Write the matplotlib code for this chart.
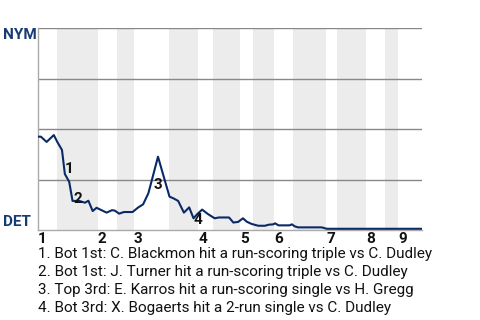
import matplotlib.pyplot as plt

plt.rcParams['font.family'] = ['Roboto', 'DejaVu Sans']

# play index and NYM win probability (%)
play = [0.0, 0.7, 1.9, 3.4, 4.1, 5.1, 5.7, 6.6, 7.3, 8.7, 9.9, 10.6, 11.5, 12.3,
        13.0, 14.4, 15.5, 16.1, 17.0, 18.0, 19.8, 21.0, 22.0, 23.1, 24.1, 25.1,
        26.2, 27.5, 28.3, 29.3, 30.5, 31.6, 32.5, 33.3, 34.3, 35.5, 36.9, 37.8,
        39.9, 40.8, 41.8, 42.8, 43.6, 44.6, 46.0, 47.4, 48.1, 49.1, 49.5, 50.2,
        52.5, 53.0, 53.6, 54.3, 59.2, 60.3, 80.1]
wp = [46.2, 46.2, 43.6, 47.0, 43.7, 39.6, 27.7, 23.9, 14.4, 14.4, 13.5, 14.5, 9.4, 11.0,
      10.2, 8.6, 9.8, 9.6, 8.1, 8.9, 8.9, 11.2, 12.7, 18.2, 27.2, 36.3,
      27.2, 16.5, 15.7, 14.4, 8.6, 11.2, 5.8, 7.9, 10.1, 7.9, 5.8, 6.2,
      6.2, 3.7, 4.0, 5.8, 4.1, 3.0, 2.1, 2.1, 2.6, 2.8, 3.3, 2.3,
      2.3, 2.8, 1.8, 1.3, 1.3, 0.6, 0.6]

inning_start = [0.0, 12.5, 20.0, 33.4, 42.2, 49.2, 60.1, 68.4, 75.0]
bottom_start = [4.1, 16.6, 27.4, 36.6, 44.9, 53.2, 62.4, 72.4]
bottom_end = [12.5, 20.0, 33.4, 42.2, 49.2, 60.1, 68.4, 75.0]
game_end = 80.1

marker_x = [6.6, 8.4, 25.1, 33.5]
marker_y = [30.2, 15.3, 22.3, 5.0]
events = [
    "1. Bot 1st: C. Blackmon hit a run-scoring triple vs C. Dudley",
    "2. Bot 1st: J. Turner hit a run-scoring triple vs C. Dudley",
    "3. Top 3rd: E. Karros hit a run-scoring single vs H. Gregg",
    "4. Bot 3rd: X. Bogaerts hit a 2-run single vs C. Dudley",
]

navy = "#183b73"

fig = plt.figure(figsize=(4.8, 3.2), dpi=100)
ax = fig.add_axes([37.5 / 480, 90 / 320, (422 - 37.5) / 480, 202 / 320])

for a, b in zip(bottom_start, bottom_end):
    ax.axvspan(a, b, color="#ececec", lw=0, zorder=0)

for g in [25, 50, 75, 100]:
    ax.axhline(g, color="#888888", lw=1, zorder=1)

ax.plot(play, wp, color="#0a2a66", lw=1.5, zorder=3)

for i in range(len(marker_x)):
    ax.text(marker_x[i], marker_y[i], str(i + 1), ha="center", va="center",
            fontsize=11, fontweight="bold", color="#111111", zorder=4)

ax.set_xlim(0, game_end)
ax.set_ylim(0, 100)
ax.set_xticks([])
ax.set_yticks([])
for s in ["top", "right"]:
    ax.spines[s].set_visible(False)
for s in ["left", "bottom"]:
    ax.spines[s].set_color("#aaaaaa")
    ax.spines[s].set_linewidth(1)

for i, x in enumerate(inning_start):
    ax.text(x + 0.1, -0.012, str(i + 1), transform=ax.get_xaxis_transform(),
            ha="left", va="top", fontsize=11, fontweight="bold", color="#111111")

fig.text(2.5 / 480, 1 - 28 / 320, "NYM", ha="left", va="top",
         fontsize=11, fontweight="bold", color=navy)
fig.text(2.5 / 480, 1 - 226 / 320, "DET", ha="left", va="baseline",
         fontsize=11, fontweight="bold", color=navy)

for i, e in enumerate(events):
    fig.text(38 / 480, 1 - (254 + 18.1 * i) / 320, e, ha="left", va="center",
             fontsize=11, color="#111111")

fig.savefig("out.png", dpi=100)
